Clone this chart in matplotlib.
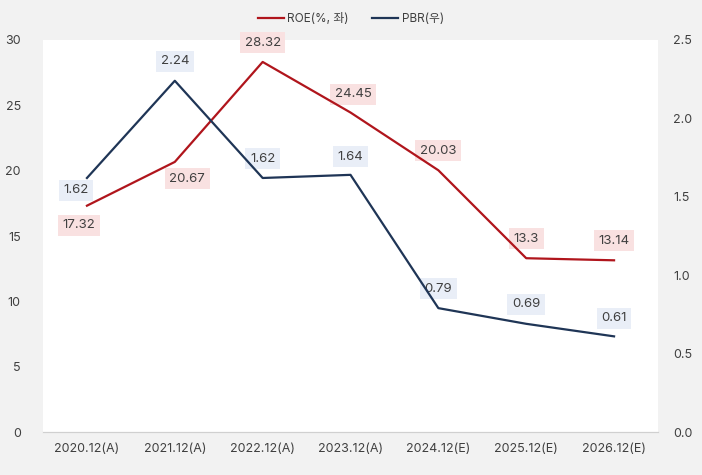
import numpy as np
import matplotlib
matplotlib.use("Agg")
import matplotlib.pyplot as plt

plt.rcParams['font.family'] = ['Inter', 'Noto Sans CJK KR', 'DejaVu Sans']

categories = ["2020.12(A)", "2021.12(A)", "2022.12(A)", "2023.12(A)",
              "2024.12(E)", "2025.12(E)", "2026.12(E)"]
roe = [17.32, 20.67, 28.32, 24.45, 20.03, 13.3, 13.14]
pbr = [1.62, 2.24, 1.62, 1.64, 0.79, 0.69, 0.61]
roe_labels = ["17.32", "20.67", "28.32", "24.45", "20.03", "13.3", "13.14"]
pbr_labels = ["1.62", "2.24", "1.62", "1.64", "0.79", "0.69", "0.61"]
# label offsets from the point, in points
roe_off = [(-6, -14), (9, -12), (0, 14), (2, 13), (0, 14), (0, 14), (0, 14)]
pbr_off = [(-8, -9), (0, 14), (0, 14), (0, 13), (0, 14), (0, 14), (0, 13)]

RED = "#b0151c"
NAVY = "#1f3556"
TXT = "#404040"

fig = plt.figure(figsize=(7.02, 4.75), dpi=100, facecolor="#f2f2f2")
ax = fig.add_axes([0.0613, 0.0905, 0.876, 0.8253])
ax.set_facecolor("white")
ax2 = ax.twinx()

x = np.arange(len(categories))
l1, = ax.plot(x, roe, color=RED, lw=1.6, label="ROE(%, 좌)", zorder=6)
l2, = ax2.plot(x, pbr, color=NAVY, lw=1.6, label="PBR(우)", zorder=6)

ax.set_xlim(-0.5, len(categories) - 0.5)
ax.set_ylim(0, 30)
ax.set_yticks(range(0, 31, 5))
ax2.set_ylim(0, 2.5)
ax2.set_yticks([0, 0.5, 1.0, 1.5, 2.0, 2.5])
ax2.set_yticklabels(["0.0", "0.5", "1.0", "1.5", "2.0", "2.5"])
ax.set_xticks(x)
ax.set_xticklabels(categories)

for a in (ax, ax2):
    for s in ("top", "left", "right"):
        a.spines[s].set_visible(False)
    a.spines["bottom"].set_color("#d0d0d0")
    a.tick_params(length=0, labelsize=9, colors=TXT)
ax.tick_params(axis="x", pad=8)
ax.tick_params(axis="y", pad=16)
ax2.tick_params(axis="y", pad=11)

for xi, v, t, o in zip(x, roe, roe_labels, roe_off):
    ax.annotate(t, (xi, v), xytext=o, textcoords="offset points",
                ha="center", va="center", fontsize=9.5, color=TXT, zorder=2,
                bbox=dict(boxstyle="square,pad=0.35", fc="#f9e1e1", ec="none"))
for xi, v, t, o in zip(x, pbr, pbr_labels, pbr_off):
    ax2.annotate(t, (xi, v), xytext=o, textcoords="offset points",
                 ha="center", va="center", fontsize=9.5, color=TXT, zorder=2,
                 bbox=dict(boxstyle="square,pad=0.35", fc="#e9eef7", ec="none"))

fig.legend(handles=[l1, l2], loc="upper center", bbox_to_anchor=(0.5, 0.995),
           ncol=2, frameon=False, fontsize=8.5, handlelength=2.2,
           columnspacing=2.0, handletextpad=0.3, labelcolor=TXT)

fig.savefig("out.png", dpi=100, facecolor=fig.get_facecolor())
